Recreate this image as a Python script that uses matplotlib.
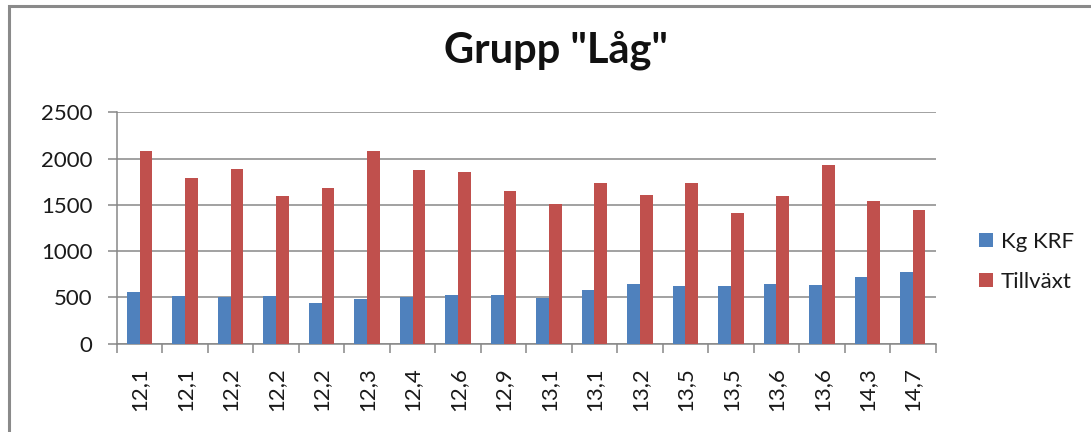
import matplotlib
matplotlib.use("Agg")
import matplotlib.pyplot as plt
import numpy as np
from matplotlib.patches import Rectangle

categories = ["12,1", "12,1", "12,2", "12,2", "12,2", "12,3", "12,4", "12,6", "12,9",
              "13,1", "13,1", "13,2", "13,5", "13,5", "13,6", "13,6", "14,3", "14,7"]
kg_krf = [557, 514, 500, 514, 439, 478, 500, 525, 525,
          496, 582, 646, 621, 621, 646, 635, 725, 775]
tillvaxt = [2086, 1789, 1889, 1597, 1687, 2086, 1878, 1853, 1650,
            1507, 1741, 1611, 1741, 1418, 1597, 1932, 1543, 1443]
series_names = ["Kg KRF", "Tillväxt"]
title = 'Grupp "Låg"'

plt.rcParams['font.family'] = ['Lato', 'DejaVu Sans']

W, H = 1091, 432
fig = plt.figure(figsize=(W / 100, H / 100), dpi=100)
ax = fig.add_axes([117 / W, (H - 343.7) / H, (935.5 - 117) / W, (343.7 - 112.4) / H])

x = np.arange(len(categories))
w = 0.28
blue = "#4F81BD"
red = "#C0504D"
grey = "#878787"
ax.bar(x - w / 2, kg_krf, width=w, color=blue, label=series_names[0], zorder=3)
ax.bar(x + w / 2, tillvaxt, width=w, color=red, label=series_names[1], zorder=3)

ax.set_xlim(-0.5, len(categories) - 0.5)
ax.set_ylim(0, 2500)
ax.set_yticks(np.arange(0, 2501, 500))
ax.yaxis.grid(True, color=grey, linewidth=1.1, zorder=0)
ax.set_axisbelow(True)

ax.set_xticks(x)
ax.set_xticklabels(categories, rotation=90, fontsize=16, color="#1a1a1a")
ax.tick_params(axis='x', length=0, pad=17)
ax.set_xticks(np.arange(-0.5, len(categories), 1), minor=True)
ax.tick_params(axis='x', which='minor', length=6.5, color=grey, width=1.1)
ax.tick_params(axis='y', labelsize=16, length=6.5, color=grey, width=1.1,
               pad=11, labelcolor="#1a1a1a")

for s in ["top", "right"]:
    ax.spines[s].set_visible(False)
for s in ["left", "bottom"]:
    ax.spines[s].set_color(grey)
    ax.spines[s].set_linewidth(1.1)

fig.text(555.5 / W, 1 - 63 / H, title, ha="center", va="baseline",
         fontsize=30, fontweight="bold", color="#111111")

leg = fig.legend(loc="center left", bbox_to_anchor=(979 / W, 1 - 262 / H),
                 frameon=False, fontsize=16, handlelength=0.63, handleheight=0.63,
                 handletextpad=0.35, labelspacing=0.9, borderpad=0, borderaxespad=0)
for t in leg.get_texts():
    t.set_color("#1a1a1a")

fig.patches.append(Rectangle((8.5 / W, -0.1), 1.2, 1.1 - 6 / H,
                             transform=fig.transFigure, fill=False,
                             edgecolor="#8a8a8a", linewidth=2.2))

fig.savefig("out.png", dpi=100)
